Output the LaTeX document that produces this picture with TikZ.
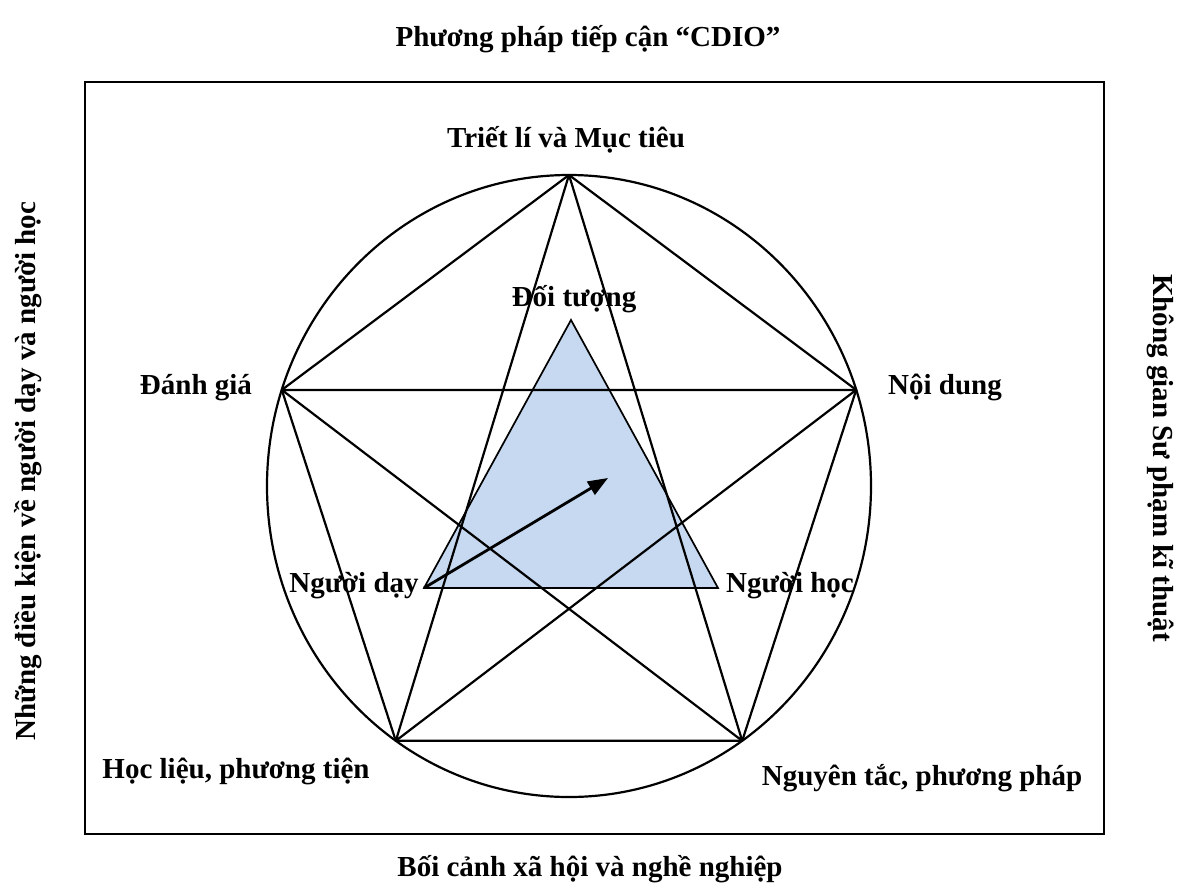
\documentclass[tikz,border=0pt]{standalone}
\usepackage{fontspec}
\setmainfont{Liberation Serif}
\usetikzlibrary{arrows.meta}
\definecolor{triblue}{RGB}{198,217,240}
\begin{document}
\begin{tikzpicture}[x=1pt,y=-1pt,
  lbl/.style={font=\fontsize{29}{34}\selectfont\bfseries, inner sep=0pt, anchor=base},
  edge/.style={line width=2.2pt, line join=round, line cap=round},
  frame/.style={line width=2.4pt},
  ]
\useasboundingbox (0,0) rectangle (1184,894);

% outer frame
\draw[frame] (85,82) rectangle (1104,834);

% vertices of the pentagon, on the ellipse
\coordinate (vt) at (569,175);
\coordinate (vr) at (856.2,389.9);
\coordinate (vl) at (281.8,389.9);
\coordinate (vbr) at (742.2,740.8);
\coordinate (vbl) at (395.8,740.8);

% inner triangle
\coordinate (ta) at (571,320);
\coordinate (td) at (424,588);
\coordinate (th) at (718,588);
\coordinate (tip) at (608,478);

\fill[triblue] (ta) -- (td) -- (th) -- cycle;

% circumscribed ellipse
\draw[edge] (569,486) ellipse [x radius=302pt, y radius=311pt];

% pentagon and pentagram
\draw[edge] (vt) -- (vr) -- (vbr) -- (vbl) -- (vl) -- cycle;
\draw[edge] (vt) -- (vbr) -- (vl) -- (vr) -- (vbl) -- cycle;

% triangle outline and arrow
\draw[line width=1.7pt, line join=miter] (ta) -- (td) -- (th) -- cycle;
\draw[line width=2.8pt, -{Triangle[length=20pt,width=15pt]}] (td) -- (tip);

% labels
\node[lbl] (title) at (588,46) {Phương pháp tiếp cận “CDIO”};
\node[lbl] (triet) at (566,147) {Triết lí và Mục tiêu};
\node[lbl] (doituong) at (574,306) {Đối tượng};
\node[lbl] (danhgia) at (196,394) {Đánh giá};
\node[lbl] (noidung) at (945,394) {Nội dung};
\node[lbl] (nguoiday) at (354,592) {Người dạy};
\node[lbl] (nguoihoc) at (790,592) {Người học};
\node[lbl] (hoclieu) at (236,778) {Học liệu, phương tiện};
\node[lbl] (nguyentac) at (922,785) {Nguyên tắc, phương pháp};
\node[lbl] (boicanh) at (590,876) {Bối cảnh xã hội và nghề nghiệp};
\node[lbl, rotate=90] (dieukien) at (35,471) {Những điều kiện về người dạy và người học};
\node[lbl, rotate=-90] (khonggian) at (1153,458) {Không gian Sư phạm kĩ thuật};
\end{tikzpicture}
\end{document}
